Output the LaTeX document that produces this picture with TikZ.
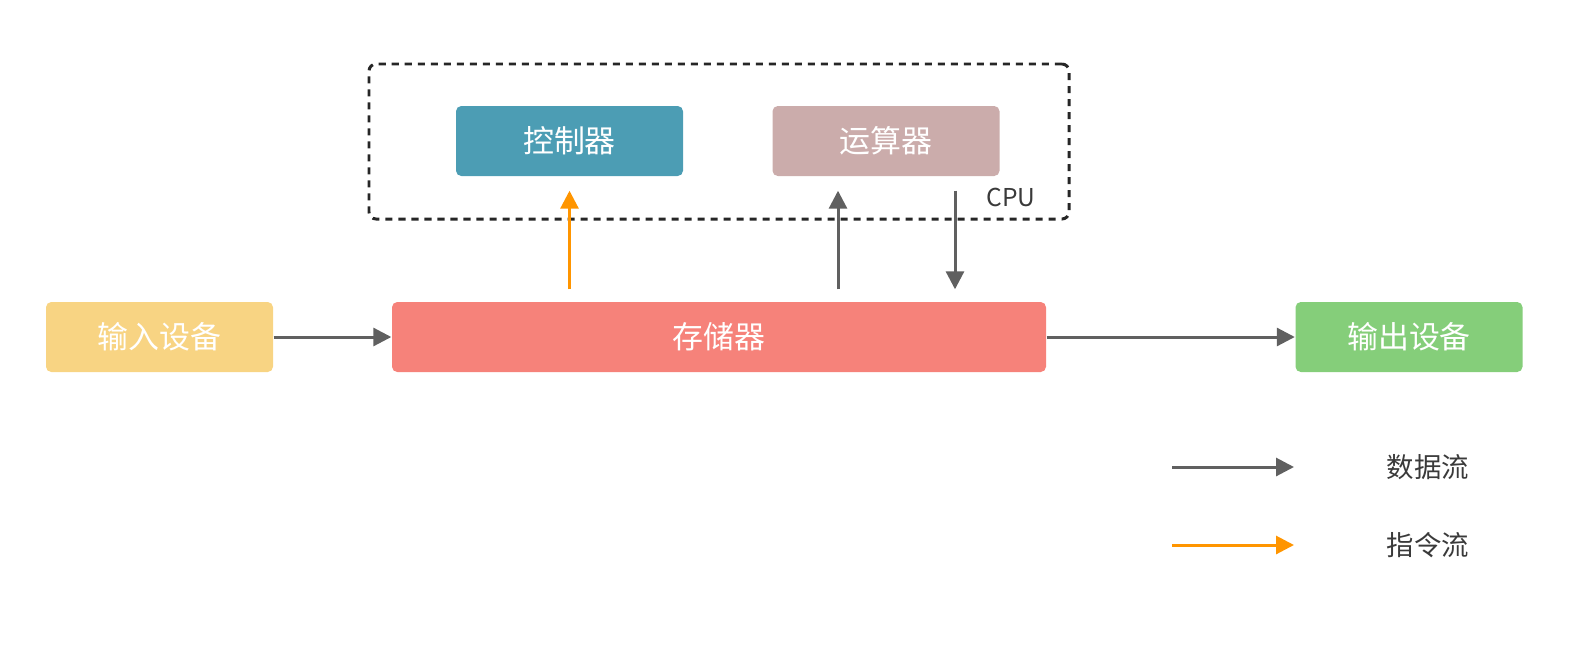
\documentclass[tikz,border=0pt]{standalone}
\usepackage{fontspec}
\setmainfont{Noto Sans CJK SC}
\usetikzlibrary{arrows.meta}

\definecolor{flujoDatos}{HTML}{606060}
\definecolor{flujoInstr}{HTML}{FF9500}
\definecolor{colCtrl}{HTML}{4C9DB4}
\definecolor{colAlu}{HTML}{CBACAB}
\definecolor{colMem}{HTML}{F6827A}
\definecolor{colEntrada}{HTML}{F8D483}
\definecolor{colSalida}{HTML}{85CE7A}
\definecolor{colTexto}{HTML}{3A3A3A}

\begin{document}
\begin{tikzpicture}[
        every node/.style={font=\fontsize{8.8pt}{10pt}\selectfont},
        bloque/.style={rounded corners=1.5pt, text=white, minimum width=2.27cm, minimum height=0.7cm, inner sep=0pt},
        datos/.style={draw=flujoDatos, line width=0.85pt, -{Triangle[length=0.18cm, width=0.18cm]}},
        instr/.style={draw=flujoInstr, line width=0.85pt, -{Triangle[length=0.18cm, width=0.18cm]}},
        leyenda/.style={text=colTexto, font=\fontsize{7.8pt}{9pt}\selectfont}
    ]
    \useasboundingbox (0,0) rectangle (15.96,6.6);

    % CPU
    \node[draw=black!85, line width=0.85pt, dash pattern=on 2pt off 1.7pt, rounded corners=2pt,
          minimum width=7cm, minimum height=1.55cm] (cpu) at (7.19,5.185) {};
    \node[text=colTexto, font=\fontsize{7pt}{8pt}\selectfont, anchor=east] (cpuEtiqueta) at (10.48,4.63) {CPU};

    % Controlador y unidad aritmetica
    \node[bloque, fill=colCtrl] (ctrl) at (5.695,5.19) {控制器};
    \node[bloque, fill=colAlu] (alu) at (8.86,5.19) {运算器};

    % Fila principal
    \node[bloque, fill=colEntrada] (entrada) at (1.595,3.23) {输入设备};
    \node[bloque, fill=colMem, minimum width=6.54cm] (mem) at (7.19,3.23) {存储器};
    \node[bloque, fill=colSalida] (salida) at (14.09,3.23) {输出设备};

    % Aristas
    \draw[datos] (entrada) -- (mem);
    \draw[datos] (mem) -- (salida);
    \draw[instr, shorten <=0.12cm, shorten >=0.14cm] (ctrl.south |- mem.north) -- (ctrl.south);
    \draw[datos, shorten <=0.12cm, shorten >=0.14cm] ([xshift=-0.48cm]alu.south |- mem.north) -- ([xshift=-0.48cm]alu.south);
    \draw[datos, shorten <=0.14cm, shorten >=0.12cm] ([xshift=0.69cm]alu.south) -- ([xshift=0.69cm]alu.south |- mem.north);

    % Leyenda
    \coordinate (datosIni) at (11.72,1.93);
    \coordinate (datosFin) at (12.94,1.93);
    \coordinate (instrIni) at (11.72,1.15);
    \coordinate (instrFin) at (12.94,1.15);
    \draw[datos] (datosIni) -- (datosFin);
    \draw[instr] (instrIni) -- (instrFin);
    \node[leyenda] (datosTexto) at (14.28,1.93) {数据流};
    \node[leyenda] (instrTexto) at (14.28,1.15) {指令流};
\end{tikzpicture}
\end{document}
